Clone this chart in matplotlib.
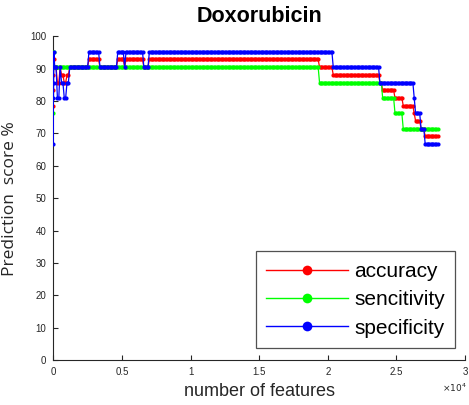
import numpy as np
import matplotlib
matplotlib.use("Agg")
import matplotlib.pyplot as plt
from matplotlib.lines import Line2D

# Feature counts at which the classifier was evaluated
early_features = [1, 5, 10, 20, 50]
step_features = list(range(100, 28001, 100))
features = np.array(early_features + step_features)

# Scores (%) as runs: (first feature count, last feature count, value)
specificity_runs = [
    (1, 1, 66.67), (5, 5, 90.48), (10, 10, 80.95), (20, 20, 85.71), (50, 50, 95.24),
    (100, 200, 90.48), (300, 400, 80.95), (500, 500, 90.48), (600, 700, 85.71),
    (800, 900, 80.95), (1000, 1100, 85.71), (1200, 2500, 90.48),
    (2600, 3300, 95.24), (3400, 4600, 90.48), (4700, 5100, 95.24),
    (5200, 5200, 90.48), (5300, 6500, 95.24), (6600, 6900, 90.48),
    (7000, 20300, 95.24), (20400, 23700, 90.48), (23800, 26200, 85.71),
    (26300, 26300, 80.95), (26400, 26700, 76.19), (26800, 27000, 71.43),
    (27100, 28000, 66.67),
]
sensitivity_runs = [
    (1, 1, 90.48), (5, 5, 76.19), (10, 10, 95.24), (20, 20, 95.24), (50, 50, 90.48),
    (100, 19300, 90.48), (19400, 23900, 85.71), (24000, 24800, 80.95),
    (24900, 25400, 76.19), (25500, 28000, 71.43),
]
accuracy_runs = [
    (1, 1, 78.57), (5, 5, 83.33), (10, 10, 88.10), (20, 20, 90.48), (50, 50, 92.86),
    (100, 200, 90.48), (300, 400, 85.71), (500, 500, 90.48), (600, 700, 88.10),
    (800, 900, 85.71), (1000, 1100, 88.10), (1200, 2500, 90.48),
    (2600, 3300, 92.86), (3400, 4600, 90.48), (4700, 5100, 92.86),
    (5200, 5200, 90.48), (5300, 6500, 92.86), (6600, 6900, 90.48),
    (7000, 19300, 92.86), (19400, 20300, 90.48), (20400, 23700, 88.10),
    (23800, 23900, 85.71), (24000, 24800, 83.33), (24900, 25400, 80.95),
    (25500, 26200, 78.57), (26300, 26300, 76.19), (26400, 26700, 73.81),
    (26800, 27000, 71.43), (27100, 28000, 69.05),
]

series_names = ["accuracy", "sencitivity", "specificity"]
series_colors = ["#ff0000", "#00ff00", "#0000ff"]

x_ticks = [0, 5000, 10000, 15000, 20000, 25000, 30000]
x_tick_labels = ["0", "0.5", "1", "1.5", "2", "2.5", "3"]
y_ticks = list(range(0, 101, 10))


def expand(runs, xs):
    vals = np.full(len(xs), np.nan)
    for lo, hi, v in runs:
        vals[(xs >= lo) & (xs <= hi)] = v
    return vals


HELV = ["Liberation Sans", "DejaVu Sans"]

fig = plt.figure(figsize=(4.69, 4.05), dpi=100)
ax = fig.add_axes([53.3 / 469, 45 / 405, 411.7 / 469, 323.7 / 405])

for runs, color in zip([accuracy_runs, sensitivity_runs, specificity_runs], series_colors):
    ax.plot(features, expand(runs, features), color=color, lw=0.9,
            marker="o", markersize=3.0, markeredgewidth=0, zorder=3)

ax.set_xlim(0, 30000)
ax.set_ylim(0, 100)
ax.set_xticks(x_ticks)
ax.set_xticklabels(x_tick_labels)
ax.set_yticks(y_ticks)
ax.tick_params(direction="in", length=3.5, width=0.8, color="#262626",
               labelsize=7, labelcolor="#262626", pad=5)
for lab in ax.get_xticklabels() + ax.get_yticklabels():
    lab.set_family(HELV)

for side in ("top", "right"):
    ax.spines[side].set_visible(False)
for side in ("left", "bottom"):
    ax.spines[side].set_linewidth(0.8)
    ax.spines[side].set_color("#262626")

ax.set_title("Doxorubicin", family=HELV, fontweight="bold", fontsize=15.5, pad=10)
ax.set_xlabel("number of features", family=HELV, fontsize=13, color="#262626", labelpad=4)
ax.set_ylabel("Prediction  score %", family=["Open Sans", "DejaVu Sans"], fontsize=12.5,
              color="#262626", labelpad=9)

ax.annotate(r"$\times10^{4}$", xy=(1.0, 0), xycoords="axes fraction",
            xytext=(1, -20), textcoords="offset points", ha="right", va="center",
            fontsize=6.5, color="#262626", family=HELV)

handles = [Line2D([], [], color=c, lw=1, marker="o", markersize=7, markeredgewidth=0)
           for c in series_colors]
leg = ax.legend(handles, series_names, loc="lower right", bbox_to_anchor=(0.976, 0.037),
                prop={"family": HELV, "size": 15}, frameon=True, fancybox=False,
                edgecolor="#262626", handlelength=3.9, handletextpad=0.3,
                labelspacing=0.45, borderpad=0.5, borderaxespad=0)
leg.get_frame().set_linewidth(0.9)

fig.savefig("out.png", dpi=100)
